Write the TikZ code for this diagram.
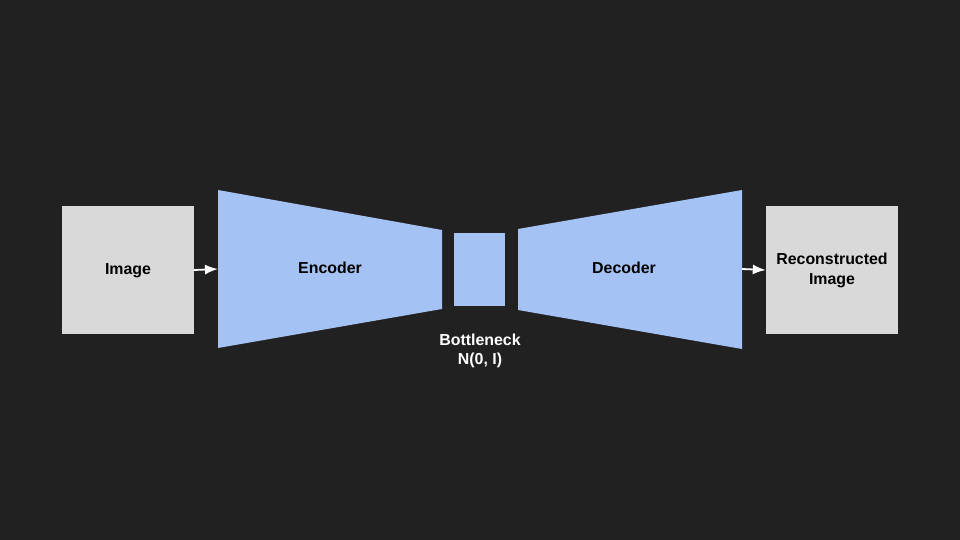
\documentclass[tikz,border=0pt]{standalone}
\usepackage{fontspec}
\setmainfont{Liberation Sans}
\usetikzlibrary{arrows.meta}
\definecolor{bgdark}{HTML}{212121}
\definecolor{boxgray}{HTML}{D9D9D9}
\definecolor{netblue}{HTML}{A4C2F4}

\begin{document}
\begin{tikzpicture}[x=1pt, y=-1pt, box/.style={fill=boxgray, minimum width=132pt, minimum height=128pt, inner sep=0pt}, net/.style={fill=netblue}, lbl/.style={font=\fontsize{15.9}{19.5}\selectfont\bfseries, align=center, inner sep=0pt}, n/.style={-{Latex[length=13pt, width=10pt]}, line width=1.8pt, white}]
            \fill[bgdark] (0,0) rectangle (960,540);
            % nodes
            \node[box] (img) at (128,270) {};
            \node[lbl] (imglbl) at (128,270.5) {Image};
            \node[box] (rec) at (832,270) {};
            \node[lbl] (reclbl) at (832,270.5) {Reconstructed\\Image};

            \fill[net] (218,190) -- (442,230) -- (442,309) -- (218,348) -- cycle;
            \coordinate (encin) at (218,269);
            \node[lbl] (enc) at (330,268) {Encoder};

            \node[net, minimum width=51pt, minimum height=73pt, inner sep=0pt] (bot) at (479.5,269.5) {};
            \node[lbl, white] (botlbl) at (480,351) {Bottleneck\\N(0, I)};

            \fill[net] (518,229) -- (742,190) -- (742,349) -- (518,310) -- cycle;
            \coordinate (decout) at (742,269);
            \node[lbl] (dec) at (624,268) {Decoder};
            % edges
            \draw [n] (img.east) -- (encin);
            \draw [n] (decout) -- (rec.west);
        \end{tikzpicture}
\end{document}
